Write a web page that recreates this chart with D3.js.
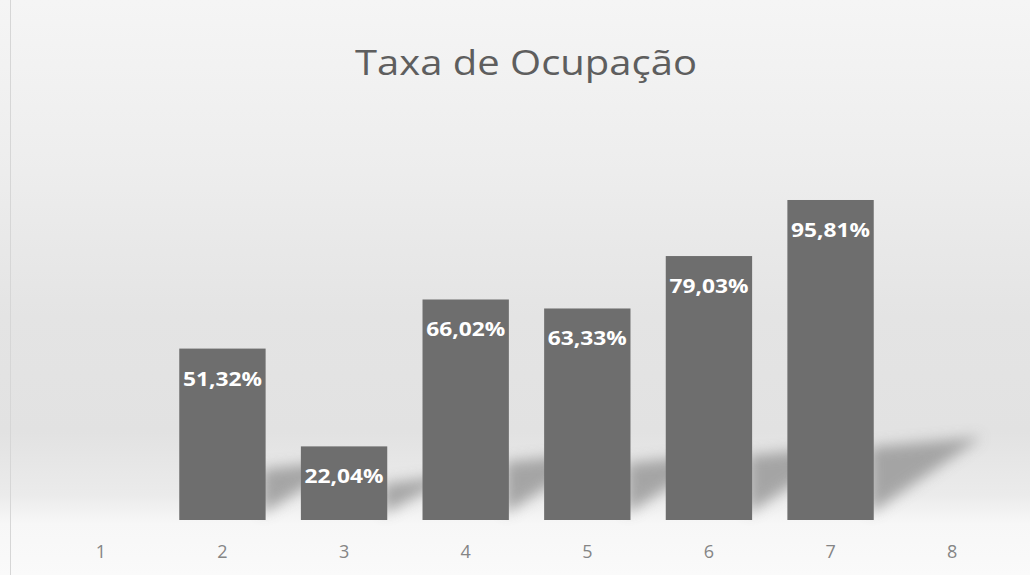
<!DOCTYPE html>
<html><head><meta charset="utf-8">
<script src="https://cdn.jsdelivr.net/npm/d3@7"></script>
<style>
html,body{margin:0;padding:0;background:#fff;}
svg{display:block;}
</style></head>
<body>
<svg id="chart" width="1030" height="575"></svg>
<script>
const categories = ["1","2","3","4","5","6","7","8"];
const values = [null, 51.32, 22.04, 66.02, 63.33, 79.03, 95.81, null];
const labels = ["", "51,32%", "22,04%", "66,02%", "63,33%", "79,03%", "95,81%", ""];
const chartTitle = "Taxa de Ocupação";

const W = 1030, H = 575;
const FONT = "'Open Sans', sans-serif";
const svg = d3.select("#chart");
const defs = svg.append("defs");

const bg = defs.append("linearGradient").attr("id","bg").attr("x1",0).attr("y1",0).attr("x2",0).attr("y2",1);
[[0,"#f5f5f5"],[0.3,"#ededed"],[0.55,"#e4e4e4"],[0.75,"#e2e2e2"],[0.86,"#ebebeb"],[0.91,"#f7f7f7"],[1,"#fafafa"]]
  .forEach(([o,c])=>bg.append("stop").attr("offset",o).attr("stop-color",c));
svg.append("rect").attr("width",W).attr("height",H).attr("fill","url(#bg)");
svg.append("line").attr("x1",10.5).attr("x2",10.5).attr("y1",0).attr("y2",H).attr("stroke","#d6d6d6");

const blur = defs.append("filter").attr("id","blur").attr("x","-50%").attr("y","-50%").attr("width","200%").attr("height","200%");
blur.append("feGaussianBlur").attr("stdDeviation",7);

const x = d3.scaleBand().domain(categories).range([40,1013]).paddingInner(0.29).paddingOuter(0.145);
const y = d3.scaleLinear().domain([0,100]).range([520,186]);

const data = categories.map((c,i)=>({c, v: values[i], l: labels[i]})).filter(d=>d.v!=null);

// soft perspective shadows to the right of each bar
svg.append("g").selectAll("path").data(data).join("path")
  .attr("d", d => {
    const xr = x(d.c) + x.bandwidth(), yb = y(0);
    const h = (yb - y(d.v)) * 0.15 + 25;
    const len = 60 + (yb - y(d.v)) * 0.15;
    return `M${xr-4},${yb-6} L${xr-4},${yb-h} L${xr+len},${yb-h-10} Z`;
  })
  .attr("fill","#8e8e8e").attr("opacity",0.75).attr("filter","url(#blur)");

svg.append("g").selectAll("rect").data(data).join("rect")
  .attr("x", d=>x(d.c)).attr("width", x.bandwidth())
  .attr("y", d=>y(d.v)).attr("height", d=>y(0)-y(d.v))
  .attr("fill","#6e6e6e");

svg.append("g").selectAll("text").data(data).join("text")
  .attr("x", d=>x(d.c)+x.bandwidth()/2)
  .attr("y", d=>y(d.v)+37)
  .attr("text-anchor","middle")
  .attr("font-family",FONT)
  .attr("font-weight","bold").attr("font-size",20)
  .attr("textLength",79).attr("lengthAdjust","spacingAndGlyphs")
  .attr("fill","#ffffff")
  .text(d=>d.l);

const xAxis = d3.axisBottom(x).tickSize(0).tickPadding(0);
const gx = svg.append("g").attr("transform","translate(0,558)").call(xAxis);
gx.select(".domain").remove();
gx.selectAll("text").attr("font-family",FONT)
  .attr("font-size",18).attr("fill","#858585").attr("dy","0");

svg.append("text").attr("x",526).attr("y",75).attr("text-anchor","middle")
  .attr("font-family",FONT)
  .attr("font-size",35).attr("fill","#5e5e5e")
  .attr("textLength",342).attr("lengthAdjust","spacingAndGlyphs")
  .text(chartTitle);
</script>
</body></html>
